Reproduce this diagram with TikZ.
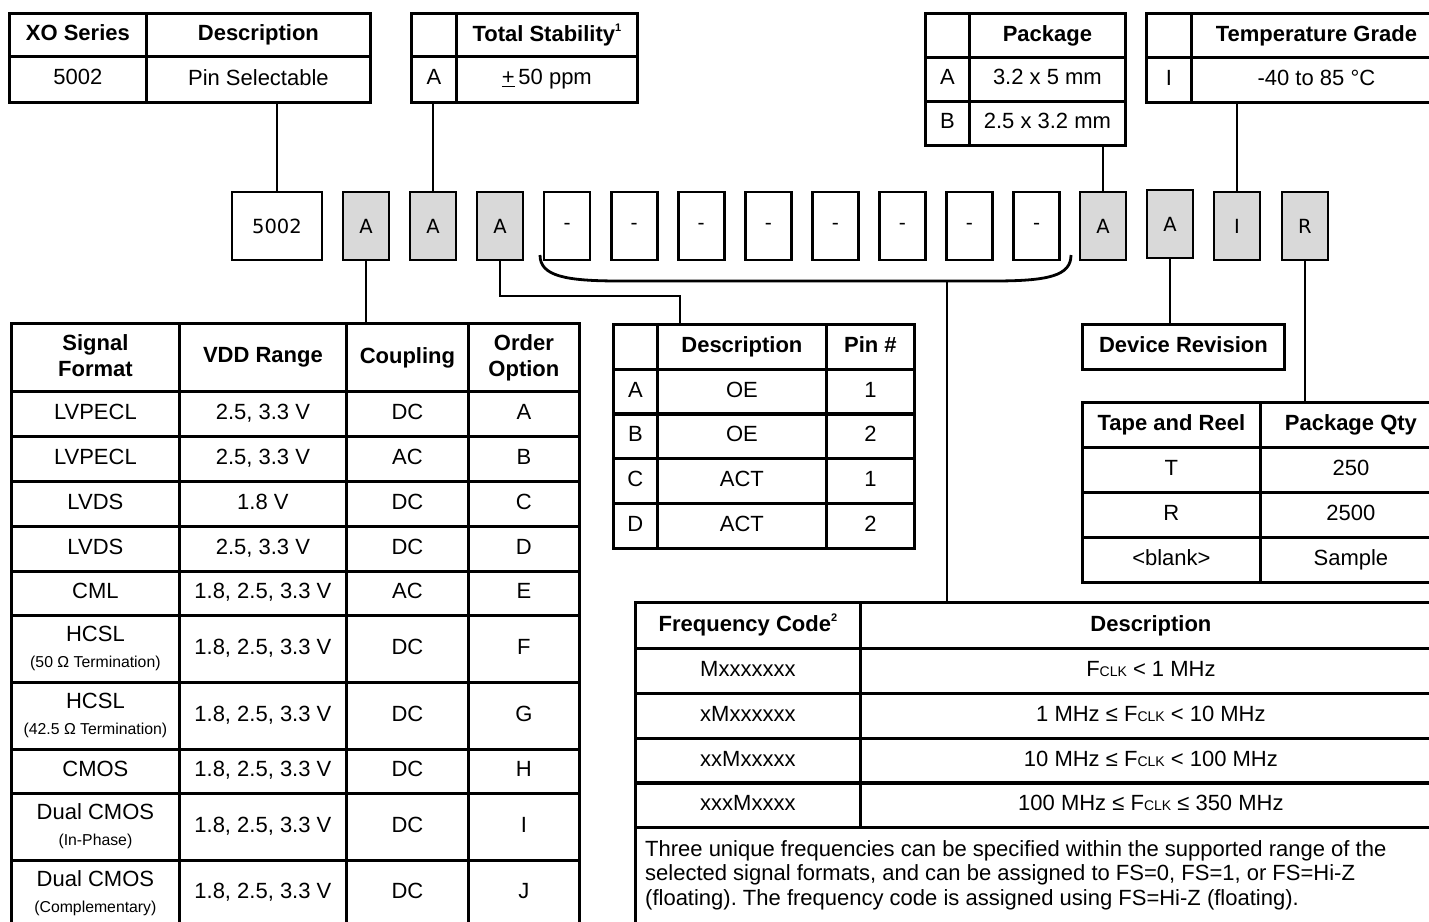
\documentclass[tikz,border=0pt]{standalone}
\usepackage{fontspec}
\setmainfont{Liberation Sans}
\newfontfamily\boxfont{DejaVu Sans}
\usepackage{xcolor}
\usetikzlibrary{positioning, calc}
\frenchspacing

\definecolor{boxgray}{HTML}{D9D9D9}
\newcommand\basefont{\fontsize{22}{26}\selectfont}
\newcommand\smalltext{\fontsize{15.8}{17}\selectfont}
\newcommand\supnote[1]{\raisebox{10pt}{\fontsize{11}{11}\selectfont #1}}
\newcommand\fclk{F{\fontsize{14}{14}\selectfont CLK}}

\begin{document}
\begin{tikzpicture}[
  x=1pt, y=-1pt,
  font=\basefont,
  cell/.style 2 args={draw, line width=2.8pt, anchor=north west, inner sep=0pt,
    align=center, font=\basefont, minimum width=#1pt, minimum height=#2pt,
    execute at begin node={\vphantom{Ay,}}},
  hcell/.style 2 args={cell={#1}{#2}, font=\basefont\bfseries},
  code/.style={draw, line width=2.8pt, minimum width=46pt, minimum height=68pt,
    inner sep=0pt, font=\boxfont\fontsize{19.5}{22}\selectfont},
  codeg/.style={code, fill=boxgray},
  wire/.style={line width=2.8pt},
]

\useasboundingbox (0,0) rectangle (1429,921);
\fill[white] (0,0) rectangle (1429,921);

% ---- 1. top tables ----
\node[hcell={137}{43}] (xoH0) at (8,12) {XO Series};
\node[hcell={224}{43}] (xoH1) at (145,12) {Description};
\node[cell={137}{46}] (xo0) at (8,55) {5002};
\node[cell={224}{46}] (xo1) at (145,55) {Pin Selectable};

\node[hcell={45}{43}] (stH0) at (410,12) {};
\node[hcell={181}{43}] (stH1) at (455,12) {Total Stability\supnote{1}};
\node[cell={45}{46}] (st0) at (410,55) {A};
\node[cell={181}{46}] (st1) at (455,55) {\underline{+}\,50 ppm};

\node[hcell={44}{44}] (pkH0) at (924,12) {};
\node[hcell={156}{44}] (pkH1) at (968,12) {Package};
\node[cell={44}{44}] (pkA0) at (924,56) {A};
\node[cell={156}{44}] (pkA1) at (968,56) {3.2 x 5 mm};
\node[cell={44}{44}] (pkB0) at (924,100) {B};
\node[cell={156}{44}] (pkB1) at (968,100) {2.5 x 3.2 mm};

\node[hcell={45}{44}] (tgH0) at (1145,12) {};
\node[hcell={250}{44}] (tgH1) at (1190,12) {Temperature Grade};
\node[cell={45}{45}] (tg0) at (1145,56) {I};
\node[cell={250}{45}] (tg1) at (1190,56) {-40 to 85 °C};

% ---- 2. part number boxes ----
\node[code, minimum width=90pt] (b5002) at (277,226) {5002};
\node[codeg] (bsig) at (366,226) {A};
\node[codeg] (bstab) at (433,226) {A};
\node[codeg] (bpin) at (500,226) {A};
\foreach \k in {1,...,8} {
  \pgfmathsetmacro{\bx}{500 + 67.07*\k}
  \node[code] (bd\k) at (\bx,226) {-};
}
\node[codeg] (bpkg) at (1103,226) {A};
\node[codeg] (brev) at (1170,224) {A};
\node[codeg] (btemp) at (1237,226) {I};
\node[codeg] (btr) at (1305,226) {R};

% ---- 3. signal format table ----
\node[hcell={168}{68}] (fmtH) at (10,322) {Signal\\Format};
\node[hcell={167}{68}] (vddH) at (178,322) {VDD Range};
\node[hcell={122}{68}] (cplH) at (345,322) {Coupling};
\node[hcell={111}{68}] (optH) at (467,322) {Order\\Option};
\foreach \y/\h/\fmt/\vdd/\cpl/\opt [count=\i] in {
  390/45/LVPECL/{2.5, 3.3 V}/DC/A,
  435/45/LVPECL/{2.5, 3.3 V}/AC/B,
  480/45/LVDS/{1.8 V}/DC/C,
  525/45/LVDS/{2.5, 3.3 V}/DC/D,
  570/44/CML/{1.8, 2.5, 3.3 V}/AC/E,
  614/67/{HCSL\\{\smalltext (50 Ω Termination)}}/{1.8, 2.5, 3.3 V}/DC/F,
  681/67/{HCSL\\{\smalltext (42.5 Ω Termination)}}/{1.8, 2.5, 3.3 V}/DC/G,
  748/44/CMOS/{1.8, 2.5, 3.3 V}/DC/H,
  792/67/{Dual CMOS\\{\smalltext (In-Phase)}}/{1.8, 2.5, 3.3 V}/DC/I,
  859/66/{Dual CMOS\\{\smalltext (Complementary)}}/{1.8, 2.5, 3.3 V}/DC/J%
}{
  \node[cell={168}{\h}] (fmt\i) at (10,\y) {\fmt};
  \node[cell={167}{\h}] (vdd\i) at (178,\y) {\vdd};
  \node[cell={122}{\h}] (cpl\i) at (345,\y) {\cpl};
  \node[cell={111}{\h}] (opt\i) at (467,\y) {\opt};
}

% ---- 4. pin table ----
\node[hcell={44}{45}] (pnH0) at (612,323) {};
\node[hcell={169}{45}] (pnH1) at (656,323) {Description};
\node[hcell={88}{45}] (pnH2) at (825,323) {Pin \#};
\foreach \y/\l/\d/\p [count=\i] in {368/A/OE/1, 412/B/OE/2, 457/C/ACT/1, 502/D/ACT/2} {
  \node[cell={44}{45}] (pnL\i) at (612,\y) {\l};
  \node[cell={169}{45}] (pnD\i) at (656,\y) {\d};
  \node[cell={88}{45}] (pnP\i) at (825,\y) {\p};
}

% ---- 5. device revision and tape and reel ----
\node[hcell={202}{45}] (dvr) at (1081,323) {Device Revision};
\node[hcell={178}{45}] (trH0) at (1081,401) {Tape and Reel};
\node[hcell={181}{45}] (trH1) at (1259,401) {Package Qty};
\foreach \y/\t/\q [count=\i] in {446/T/250, 491/R/2500, 536/<blank>/Sample} {
  \node[cell={178}{45}] (trT\i) at (1081,\y) {\t};
  \node[cell={181}{45}] (trQ\i) at (1259,\y) {\q};
}

% ---- 6. frequency code table ----
\node[hcell={225}{46}] (fcH0) at (634,601) {Frequency Code\supnote{2}};
\node[hcell={581}{46}] (fcH1) at (859,601) {Description};
\foreach \y/\c/\d [count=\i] in {
  647/Mxxxxxxx/{\fclk\ < 1 MHz},
  692/xMxxxxxx/{1 MHz ≤ \fclk\ < 10 MHz},
  737/xxMxxxxx/{10 MHz ≤ \fclk\ < 100 MHz},
  781/xxxMxxxx/{100 MHz ≤ \fclk\ ≤ 350 MHz}%
}{
  \node[cell={225}{45}] (fcC\i) at (634,\y) {\c};
  \node[cell={581}{45}] (fcD\i) at (859,\y) {\d};
}
\node[cell={806}{104}] (fcN) at (634,826) {};
\node[anchor=north west, align=left, inner sep=0pt, font=\fontsize{22}{24.5}\selectfont]
  (fcText) at (645,840) {Three unique frequencies can be specified within the supported range of the\\
  selected signal formats, and can be assigned to FS=0, FS=1, or FS=Hi-Z\\
  (floating). The frequency code is assigned using FS=Hi-Z (floating).};

% ---- 7. connectors ----
\draw[wire] (b5002.north) -- (b5002.north |- xo1.south);
\draw[wire] (bstab.north) -- (bstab.north |- st0.south);
\draw[wire] (bpkg.north) -- (bpkg.north |- pkB1.south);
\draw[wire] (btemp.north) -- (btemp.north |- tg1.south);
\draw[wire] (bsig.south) -- (bsig.south |- cplH.north);
\draw[wire] (bpin.south) |- ($(pnH1.north west)+(24,-27)$) -- ($(pnH1.north west)+(24,0)$);
\draw[wire] (brev.south) -- (brev.south |- dvr.north);
\draw[wire] (btr.south) -- (btr.south |- trH1.north);

% bracket under the frequency digits
\coordinate (brkL) at (540,255);
\coordinate (brkR) at (1071,255);
\coordinate (brkM) at (947,281);
\draw[wire] (brkL) .. controls (540,276) and (565,281) .. (620,281)
  -- (993,281) .. controls (1048,281) and (1071,276) .. (brkR);
\draw[wire] (brkM) -- (brkM |- fcH0.north);

\end{tikzpicture}
\end{document}
